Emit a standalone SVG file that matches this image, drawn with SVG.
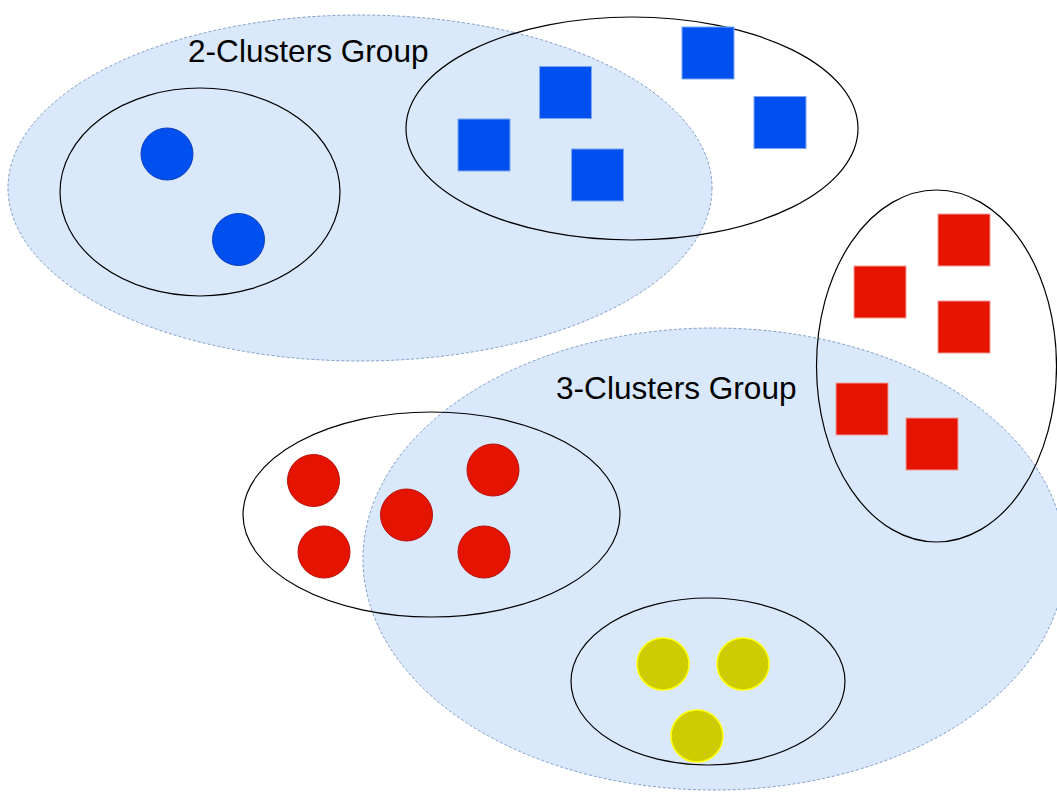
<svg xmlns="http://www.w3.org/2000/svg" width="1057" height="792" viewBox="0 0 1057 792">
<style>
.group{fill:#dae8fc;stroke:#7e9cc6;stroke-width:1;stroke-dasharray:3,2}
.cluster{fill:none;stroke:#000;stroke-width:1.2}
.bc{fill:#0050ef;stroke:#0a3fc0;stroke-width:1}
.bs{fill:#0050ef;stroke:#7aa6f5;stroke-width:1}
.rc{fill:#e51400;stroke:#b8100a;stroke-width:1}
.rs{fill:#e51400;stroke:#f19c99;stroke-width:1}
.yc{fill:#cccc00;stroke:#ffff00;stroke-width:1.5}
.label{font-family:"Liberation Sans",Arial,sans-serif;font-size:31.6px;fill:#000}
</style>
<rect width="1057" height="792" fill="#fff"/>
<g id="group2">
<ellipse class="group" cx="360" cy="188" rx="352" ry="173"/>
<text class="label" x="188" y="62">2-Clusters Group</text>
</g>
<g id="group3">
<ellipse class="group" cx="714" cy="559" rx="351" ry="231"/>
<text class="label" x="556" y="399">3-Clusters Group</text>
</g>
<g id="cluster-blue-circles">
<ellipse class="cluster" cx="200" cy="192" rx="140" ry="104"/>
<circle class="bc" cx="167" cy="154" r="26"/>
<circle class="bc" cx="238.5" cy="239.5" r="26"/>
</g>
<g id="cluster-blue-squares">
<ellipse class="cluster" cx="632" cy="128.5" rx="226" ry="111.5"/>
<rect class="bs" x="539.5" y="66.5" width="52" height="52"/>
<rect class="bs" x="458" y="119" width="52" height="52"/>
<rect class="bs" x="571.5" y="149" width="52" height="52"/>
<rect class="bs" x="682" y="27" width="52" height="52"/>
<rect class="bs" x="754" y="96.5" width="52" height="52"/>
</g>
<g id="cluster-red-squares">
<ellipse class="cluster" cx="936.5" cy="366" rx="120" ry="176"/>
<rect class="rs" x="938" y="214" width="52" height="52"/>
<rect class="rs" x="854" y="266" width="52" height="52"/>
<rect class="rs" x="938" y="301" width="52" height="52"/>
<rect class="rs" x="836" y="383" width="52" height="52"/>
<rect class="rs" x="906" y="418" width="52" height="52"/>
</g>
<g id="cluster-red-circles">
<ellipse class="cluster" cx="431.5" cy="514.5" rx="188.5" ry="102.5"/>
<circle class="rc" cx="313.5" cy="480.5" r="26"/>
<circle class="rc" cx="324" cy="552" r="26"/>
<circle class="rc" cx="406.5" cy="515" r="26"/>
<circle class="rc" cx="493" cy="470" r="26"/>
<circle class="rc" cx="484" cy="552" r="26"/>
</g>
<g id="cluster-yellow-circles">
<ellipse class="cluster" cx="708" cy="681.5" rx="137" ry="83.5"/>
<circle class="yc" cx="663" cy="664" r="26"/>
<circle class="yc" cx="743" cy="664" r="26"/>
<circle class="yc" cx="697" cy="736" r="26"/>
</g>
<g id="connectors"/>
</svg>
